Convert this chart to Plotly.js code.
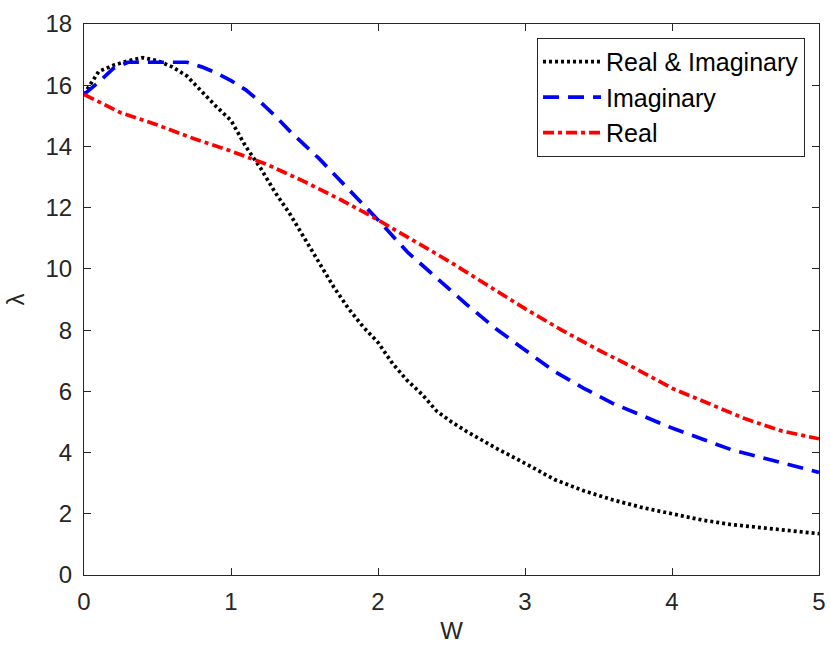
<!DOCTYPE html>
<html>
<head>
<meta charset="utf-8">
<script src="https://cdn.plot.ly/plotly-3.0.1.min.js"></script>
<style>html,body{margin:0;padding:0;background:#fff;}#chart{width:831px;height:650px;}</style>
</head>
<body>
<div id="chart"></div>
<script>
// W values and lambda values
const wBoth = [0,0.05,0.1,0.2,0.3,0.4,0.5,0.6,0.7,0.8,0.9,1.0,1.1,1.2,1.3,1.4,1.5,1.6,1.7,1.8,1.9,2.0,2.1,2.2,2.3,2.4,2.5,2.6,2.8,3.0,3.2,3.4,3.6,3.8,4.0,4.2,4.4,4.6,4.8,5.0];
const lamBoth = [15.7,16.1,16.45,16.65,16.8,16.9,16.8,16.6,16.3,15.8,15.3,14.85,14.0,13.3,12.5,11.8,11.0,10.2,9.4,8.7,8.1,7.6,6.9,6.35,5.9,5.35,5.0,4.7,4.15,3.65,3.12,2.75,2.45,2.2,2.0,1.8,1.65,1.55,1.45,1.35];

const wImag = [0,0.1,0.2,0.3,0.4,0.5,0.6,0.7,0.8,0.9,1.0,1.1,1.2,1.3,1.4,1.5,1.6,1.7,1.8,1.9,2.0,2.2,2.4,2.6,2.8,3.0,3.2,3.4,3.6,3.8,4.0,4.2,4.4,4.6,4.8,5.0];
const lamImag = [15.7,16.1,16.55,16.75,16.75,16.75,16.75,16.75,16.6,16.4,16.15,15.85,15.45,15.0,14.5,14.05,13.6,13.1,12.6,12.1,11.6,10.55,9.7,8.85,8.05,7.35,6.65,6.1,5.6,5.2,4.8,4.45,4.1,3.85,3.6,3.35];

const wReal = [0,0.25,0.5,0.75,1.0,1.25,1.5,1.75,2.0,2.25,2.5,2.75,3.0,3.25,3.5,3.75,4.0,4.25,4.5,4.75,5.0];
const lamReal = [15.7,15.1,14.7,14.25,13.85,13.4,12.85,12.25,11.6,10.9,10.2,9.45,8.7,8.0,7.35,6.75,6.1,5.6,5.1,4.7,4.45];

const xTicks = [0,1,2,3,4,5];
const yTicks = [0,2,4,6,8,10,12,14,16,18];

const FONT = 'Liberation Sans, Arial, sans-serif';
const AX = '#262626';

const traces = [
  {x: wBoth, y: lamBoth, name: 'Real &amp; Imaginary', mode: 'lines',
   line: {color: '#000000', width: 3.7, dash: '3px,3px'}},
  {x: wImag, y: lamImag, name: 'Imaginary', mode: 'lines',
   line: {color: '#0000ff', width: 3.7, dash: '16px,9px'}},
  {x: wReal, y: lamReal, name: 'Real', mode: 'lines',
   line: {color: '#ff0000', width: 3.7, dash: '11px,4px,4px,4px'}}
];

const axisCommon = {
  showgrid: false, zeroline: false, showline: true, linecolor: AX, linewidth: 1,
  mirror: 'allticks', ticks: 'inside', ticklen: 7, tickwidth: 1, tickcolor: AX,
  tickfont: {family: FONT, size: 24, color: AX}
};

const layout = {
  width: 831, height: 650,
  margin: {l: 84, r: 12, t: 24, b: 75},
  paper_bgcolor: '#ffffff', plot_bgcolor: '#ffffff',
  font: {family: FONT, color: AX},
  xaxis: Object.assign({}, axisCommon, {
    range: [0, 5], tickvals: xTicks, ticktext: xTicks.map(String),
    ticklabelstandoff: 5,
    title: {text: 'W', font: {family: FONT, size: 24, color: AX}, standoff: 8}
  }),
  yaxis: Object.assign({}, axisCommon, {
    range: [0, 18], tickvals: yTicks, ticktext: yTicks.map(String),
    ticklabelstandoff: 6,
    title: {text: 'λ', font: {family: FONT, size: 24, color: AX}, standoff: 14}
  }),
  showlegend: true,
  legend: {
    x: 0.981, y: 0.975, xanchor: 'right', yanchor: 'top',
    bgcolor: '#ffffff', bordercolor: AX, borderwidth: 1,
    font: {family: FONT, size: 25, color: '#000000'},
    tracegroupgap: 0, itemwidth: 58
  }
};

Plotly.newPlot('chart', traces, layout, {displayModeBar: false, staticPlot: true});
</script>
</body>
</html>
